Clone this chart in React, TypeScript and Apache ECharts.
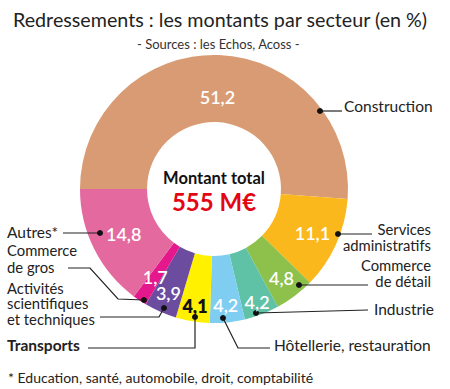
import React, { useEffect, useRef } from "react";
import * as echarts from "echarts";

const sectors = [
  "Construction",
  "Services administratifs",
  "Commerce de détail",
  "Industrie",
  "Hôtellerie, restauration",
  "Transports",
  "Activités scientifiques et techniques",
  "Commerce de gros",
  "Autres*",
];
const shares = [51.2, 11.1, 4.8, 4.2, 4.2, 4.1, 3.9, 1.7, 14.8];
const colors = [
  "#D99B74",
  "#FBB81D",
  "#8DC14B",
  "#5FC2A7",
  "#7FCEF2",
  "#FFF100",
  "#6B4C9F",
  "#E5178C",
  "#E4699F",
];
const labelColors = ["#fff", "#fff", "#fff", "#fff", "#fff", "#111", "#fff", "#fff", "#fff"];
// radial distance of each value label from the centre (layout)
const labelRadius = [92, 108, 112, 121, 117, 119, 114, 106, 101];

const titleText = "Redressements : les montants par secteur (en %)";
const subtitleText = "- Sources : les Echos, Acoss -";
const centerTitle = "Montant total";
const centerValue = "555 M€";
const footnote = "* Education, santé, automobile, droit, comptabilité";

// Annotation layout (text lines, block centre, line height, anchor dot + leader line) per sector
const annotations = [
  { lines: ["Construction"], tx: 344, ty: 106, lh: 15, align: "left", pts: [[320, 111], [342, 111]] },
  { lines: ["Services", "administratifs"], tx: 431, ty: 237, lh: 15.5, align: "right", pts: [[338, 234], [372, 234]] },
  { lines: ["Commerce", "de détail"], tx: 431, ty: 273, lh: 15.5, align: "right", pts: [[299, 285], [368, 285]] },
  { lines: ["Industrie"], tx: 374, ty: 309, lh: 15, align: "left", pts: [[256, 313], [368, 310]] },
  { lines: ["Hôtellerie, restauration"], tx: 274, ty: 345, lh: 15, align: "left", pts: [[223, 318], [238, 348], [270, 348]] },
  { lines: ["Transports"], tx: 7, ty: 345, lh: 15, align: "left", bold: true, pts: [[195, 317], [195, 348], [88, 348]] },
  { lines: ["Activités", "scientifiques", "et techniques"], tx: 7, ty: 303, lh: 15.5, align: "left", pts: [[164, 308], [159, 317], [100, 317]] },
  { lines: ["Commerce", "de gros"], tx: 7, ty: 258.5, lh: 17, align: "left", pts: [[144, 300], [118, 299], [90, 268], [68, 268]] },
  { lines: ["Autres*"], tx: 7, ty: 232, lh: 15, align: "left", pts: [[100, 233], [63, 233]] },
];

const FONT = "Lato";
const CX = 214;
const CY = 189;
const START = 180;

const fmt = (v: number) => String(v).replace(".", ",");

export default function App() {
  const ref = useRef<HTMLDivElement>(null);
  useEffect(() => {
    if (!ref.current) return;
    const chart = echarts.init(ref.current, null, { renderer: "svg" });
    const total = shares.reduce((a, b) => a + b, 0);
    const graphics: any[] = [];
    annotations.forEach((a) => {
      graphics.push({
        type: "polyline",
        silent: true,
        z: 10,
        shape: { points: a.pts },
        style: { stroke: "#222", lineWidth: 1.2, fill: null },
      });
      graphics.push({
        type: "circle",
        silent: true,
        z: 11,
        shape: { cx: a.pts[0][0], cy: a.pts[0][1], r: 3 },
        style: { fill: "#111" },
      });
      graphics.push({
        type: "text",
        silent: true,
        z: 10,
        x: a.tx,
        y: a.ty,
        style: {
          text: a.lines.join("\n"),
          fontFamily: FONT,
          fontSize: a.lines.length > 1 ? 14.8 : 15.5,
          lineHeight: a.lh,
          fontWeight: a.bold ? "bold" : "normal",
          fill: "#222",
          align: a.align,
          textAlign: a.align,
          verticalAlign: "middle",
          textVerticalAlign: "middle",
        },
      });
    });
    // value labels placed at each slice's mid-angle, computed from the data
    let cum = 0;
    shares.forEach((v, i) => {
      const mid = START - ((cum + v / 2) / total) * 360;
      cum += v;
      const r = labelRadius[i];
      const rad = (mid * Math.PI) / 180;
      graphics.push({
        type: "text",
        silent: true,
        z: 12,
        x: CX + r * Math.cos(rad),
        y: CY - r * Math.sin(rad),
        style: {
          text: fmt(v),
          fontFamily: FONT,
          fontSize: 18,
          fontWeight: i === 5 ? 800 : 600,
          fill: labelColors[i],
          align: "center",
          textAlign: "center",
          verticalAlign: "middle",
          textVerticalAlign: "middle",
        },
      });
    });
    chart.setOption({
      animation: false,
      title: [
        {
          text: titleText,
          left: 13,
          top: 9,
          padding: 0,
          textStyle: { fontFamily: FONT, fontSize: 19.7, fontWeight: "normal", color: "#222" },
        },
        {
          text: subtitleText,
          left: 137,
          top: 37,
          padding: 0,
          textStyle: { fontFamily: FONT, fontSize: 13, fontWeight: "normal", color: "#333" },
        },
        {
          text: footnote,
          left: 8,
          top: 370,
          padding: 0,
          textStyle: { fontFamily: FONT, fontSize: 14, fontWeight: "normal", color: "#222" },
        },
      ],
      series: [
        {
          type: "pie",
          center: [CX, CY],
          radius: [67, 134],
          startAngle: START,
          clockwise: true,
          silent: true,
          label: { show: false },
          labelLine: { show: false },
          data: sectors.map((name, i) => ({
            name,
            value: shares[i],
            itemStyle: { color: colors[i] },
          })),
        },
      ],
      graphic: [
        ...graphics,
        {
          type: "text",
          silent: true,
          z: 10,
          x: CX,
          y: 178,
          style: {
            text: centerTitle,
            fontFamily: FONT,
            fontSize: 16.5,
            fontWeight: "bold",
            fill: "#111",
            align: "center",
            textAlign: "center",
            verticalAlign: "middle",
            textVerticalAlign: "middle",
          },
        },
        {
          type: "text",
          silent: true,
          z: 10,
          x: CX,
          y: 201,
          style: {
            text: centerValue,
            fontFamily: FONT,
            fontSize: 24,
            fontWeight: "bold",
            fill: "#E30613",
            align: "center",
            textAlign: "center",
            verticalAlign: "middle",
            textVerticalAlign: "middle",
          },
        },
      ],
    });
    return () => chart.dispose();
  }, []);
  return (
    <div
      ref={ref}
      style={{ position: "fixed", left: 0, top: 0, width: 450, height: 389, background: "#fff" }}
    />
  );
}
